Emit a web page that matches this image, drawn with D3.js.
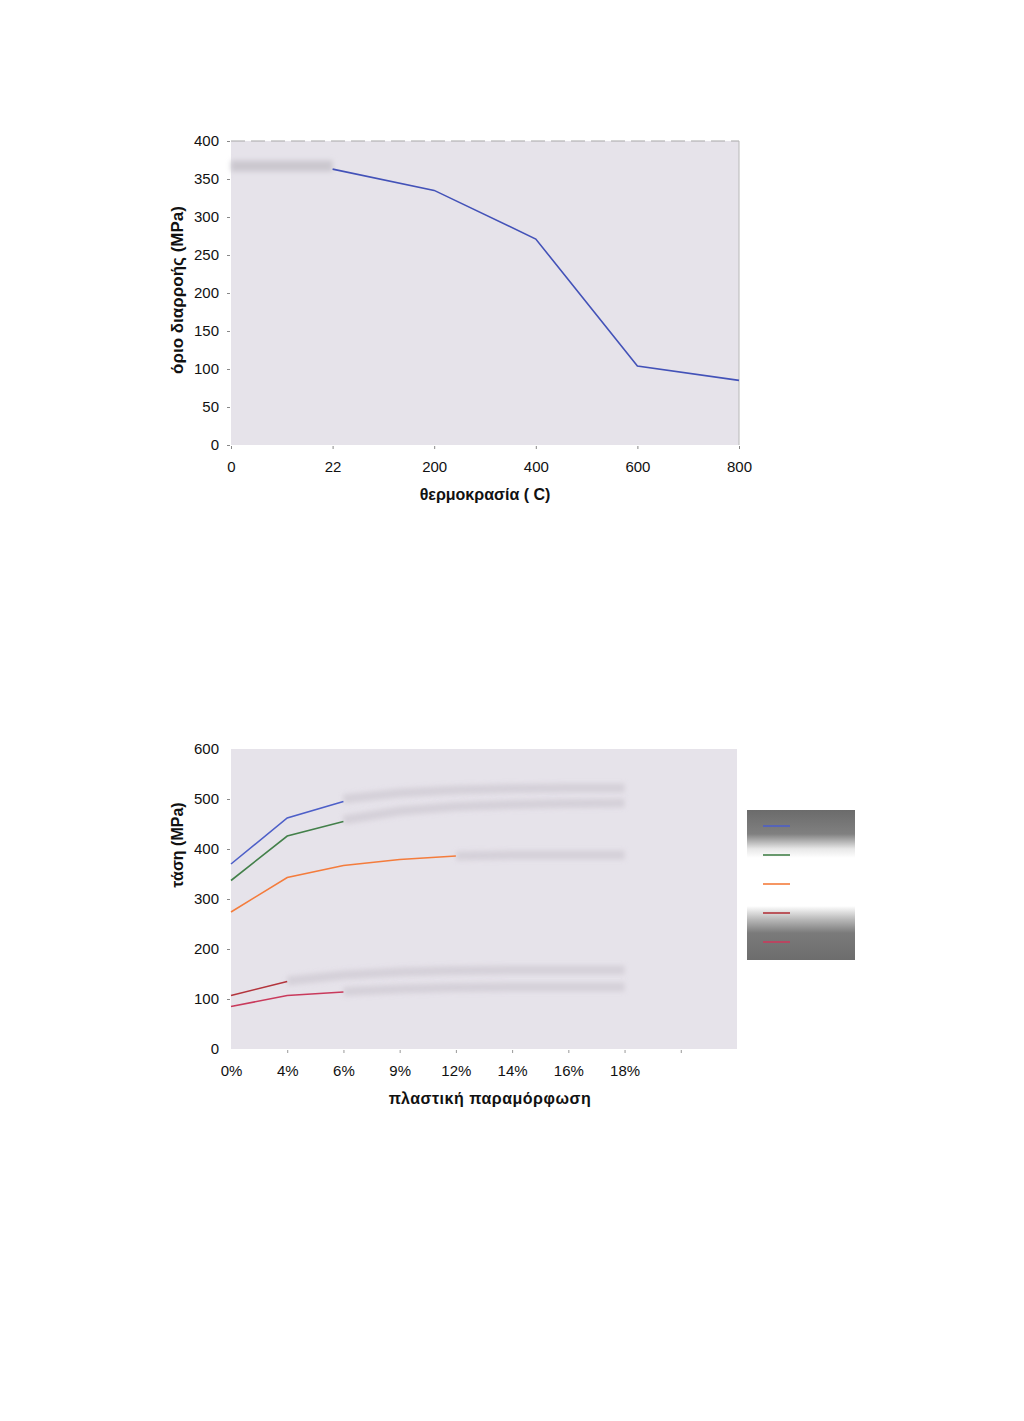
<!DOCTYPE html>
<html>
<head>
<meta charset="utf-8">
<script src="https://cdn.jsdelivr.net/npm/d3@7/dist/d3.min.js"></script>
<style>
  html, body { margin: 0; padding: 0; background: #ffffff; }
  svg { display: block; }
  text { font-family: "Liberation Sans", Arial, sans-serif; fill: #111; }
</style>
</head>
<body>
<svg id="chart" width="1024" height="1421"></svg>
<script>
// ---------- Chart 1 data ----------
const tempCategories = ["0", "22", "200", "400", "600", "800"];
const yieldStrength = [null, 363, 335, 271, 104, 85];
const yieldFaded = [367, 367, null, null, null, null];
const yieldTicks1 = [0, 50, 100, 150, 200, 250, 300, 350, 400];

// ---------- Chart 2 data ----------
const strainCategories = ["0%", "4%", "6%", "9%", "12%", "14%", "16%", "18%", "", " "];
const yTicks2 = [0, 100, 200, 300, 400, 500, 600];
const seriesBlue    = [370, 462, 495, null, null, null, null, null];
const seriesGreen   = [337, 426, 455, null, null, null, null, null];
const seriesOrange  = [274, 343, 367, 379, 386, null, null, null];
const seriesDarkRed = [107, 135, null, null, null, null, null, null];
const seriesCrimson = [85, 107, 114, null, null, null, null, null];
const fadedBlue     = [null, null, 500, 512, 518, 521, 522, 522];
const fadedGreen    = [null, null, 458, 476, 485, 489, 491, 492];
const fadedOrange   = [null, null, null, null, 386, 388, 388, 388];
const fadedDarkRed  = [null, 136, 148, 154, 157, 158, 158, 158];
const fadedCrimson  = [null, null, 115, 120, 123, 124, 124, 124];
const seriesColors = ["#4d5fc8", "#43804a", "#f47c3c", "#b3343c", "#c93a5c"];

const svg = d3.select("#chart");
const defs = svg.append("defs");
defs.append("filter").attr("id", "blur").attr("filterUnits", "userSpaceOnUse")
  .attr("x", 0).attr("y", 0).attr("width", 1024).attr("height", 1421)
  .append("feGaussianBlur").attr("stdDeviation", 2.5);
const lg = defs.append("linearGradient").attr("id", "legendGrad").attr("x1", 0).attr("y1", 0).attr("x2", 0).attr("y2", 1);
[[0, "#6b6b6b"], [0.16, "#808080"], [0.26, "#e8e8e8"], [0.32, "#ffffff"], [0.64, "#ffffff"], [0.73, "#b8b8b8"], [0.82, "#7a7a7a"], [1, "#6d6d6d"]]
  .forEach(([o, c]) => lg.append("stop").attr("offset", o).attr("stop-color", c));

const plotBg = "#e6e3ea";
const tickFont = 15;
const titleFont = 16;

// ================= Chart 1 =================
{
  const left = 231, right = 739, top = 141, bottom = 445;
  const x = d3.scalePoint().domain(tempCategories).range([left, right]);
  const y = d3.scaleLinear().domain([0, 400]).range([bottom, top]);
  const g = svg.append("g");

  g.append("rect").attr("x", left).attr("y", top).attr("width", right - left).attr("height", bottom - top).attr("fill", plotBg);
  g.append("line").attr("x1", left).attr("x2", right).attr("y1", top).attr("y2", top)
    .attr("stroke", "#a8a8a8").attr("stroke-width", 1.2).attr("stroke-dasharray", "14,6");
  g.append("line").attr("x1", right).attr("x2", right).attr("y1", top).attr("y2", bottom)
    .attr("stroke", "#b8b8b8").attr("stroke-width", 1);

  const yAxis = d3.axisLeft(y).tickValues(yieldTicks1).tickSize(3).tickPadding(8);
  const ya = g.append("g").attr("transform", `translate(${left - 1},0)`).call(yAxis);
  ya.select(".domain").remove();
  ya.selectAll(".tick line").attr("stroke", "#888");
  ya.selectAll(".tick text").attr("font-size", tickFont).attr("font-family", "Liberation Sans, Arial, sans-serif").attr("fill", "#111");

  const xAxis = d3.axisBottom(x).tickSize(3).tickPadding(12);
  const xa = g.append("g").attr("transform", `translate(0,${bottom + 1})`).call(xAxis);
  xa.select(".domain").remove();
  xa.selectAll(".tick line").attr("stroke", "#888");
  xa.selectAll(".tick text").attr("font-size", tickFont).attr("font-family", "Liberation Sans, Arial, sans-serif").attr("fill", "#111");

  const line = d3.line().defined(d => d.v != null).x(d => x(d.c)).y(d => y(d.v));
  const fadedData = tempCategories.map((c, i) => ({ c, v: yieldFaded[i] }));
  g.append("path").attr("d", line(fadedData)).attr("fill", "none").attr("stroke", "#cbc8cf")
    .attr("stroke-width", 11).attr("filter", "url(#blur)");
  const data = tempCategories.map((c, i) => ({ c, v: yieldStrength[i] }));
  g.append("path").attr("d", line(data)).attr("fill", "none").attr("stroke", "#4352b8").attr("stroke-width", 1.6);

  g.append("text").attr("x", 485).attr("y", 500).attr("text-anchor", "middle")
    .attr("font-size", titleFont).attr("font-weight", "bold").text("θερμοκρασία ( C)");
  g.append("text").attr("transform", "translate(183,290) rotate(-90)").attr("text-anchor", "middle")
    .attr("font-size", titleFont + 1).attr("font-weight", "bold").text("όριο διαρροής (MPa)");
}

// ================= Chart 2 =================
{
  const left = 231, right = 737, top = 749, bottom = 1049;
  const x = d3.scalePoint().domain(d3.range(strainCategories.length)).range([left, right]);
  const y = d3.scaleLinear().domain([0, 600]).range([bottom, top]);
  const g = svg.append("g");

  g.append("rect").attr("x", left).attr("y", top).attr("width", right - left).attr("height", bottom - top).attr("fill", plotBg);

  const yAxis = d3.axisLeft(y).tickValues(yTicks2).tickSize(3).tickPadding(8);
  const ya = g.append("g").attr("transform", `translate(${left - 1},0)`).call(yAxis);
  ya.select(".domain").remove();
  ya.selectAll(".tick line").attr("stroke", "#888").attr("opacity", d => (d === 0 || d === 600) ? 0 : 1);
  ya.selectAll(".tick text").attr("font-size", tickFont).attr("font-family", "Liberation Sans, Arial, sans-serif").attr("fill", "#111");

  const xAxis = d3.axisBottom(x).tickSize(3).tickPadding(12).tickFormat(i => strainCategories[i]);
  const xa = g.append("g").attr("transform", `translate(0,${bottom + 1})`).call(xAxis);
  xa.select(".domain").remove();
  xa.selectAll(".tick line").attr("stroke", "#999").attr("opacity", (d, i) => (i === 0 || i === strainCategories.length - 1) ? 0 : 1);
  xa.selectAll(".tick text").attr("font-size", tickFont).attr("font-family", "Liberation Sans, Arial, sans-serif").attr("fill", "#111");

  const line = d3.line().defined(d => d != null && d.v != null).x(d => x(d.i)).y(d => y(d.v));
  const toPts = arr => arr.map((v, i) => ({ i, v }));

  [fadedBlue, fadedGreen, fadedOrange, fadedDarkRed, fadedCrimson].forEach(arr => {
    g.append("path").attr("d", line(toPts(arr))).attr("fill", "none").attr("stroke", "#d2cdd6")
      .attr("stroke-width", 9).attr("filter", "url(#blur)").attr("opacity", 0.85);
  });

  const all = [seriesBlue, seriesGreen, seriesOrange, seriesDarkRed, seriesCrimson];
  all.forEach((arr, k) => {
    g.append("path").attr("d", line(toPts(arr))).attr("fill", "none").attr("stroke", seriesColors[k]).attr("stroke-width", 1.6);
  });

  // legend
  const lx = 747, ly = 810, lw = 108, lh = 150;
  g.append("rect").attr("x", lx).attr("y", ly).attr("width", lw).attr("height", lh).attr("fill", "url(#legendGrad)");
  seriesColors.forEach((c, k) => {
    const yy = 826 + k * 29;
    g.append("line").attr("x1", 763).attr("x2", 790).attr("y1", yy).attr("y2", yy).attr("stroke", c).attr("stroke-width", 1.6);
  });

  g.append("text").attr("x", 490).attr("y", 1104).attr("text-anchor", "middle")
    .attr("font-size", titleFont).attr("font-weight", "bold").attr("letter-spacing", 0.5).text("πλαστική  παραμόρφωση");
  g.append("text").attr("transform", "translate(183,845) rotate(-90)").attr("text-anchor", "middle")
    .attr("font-size", titleFont).attr("font-weight", "bold").text("τάση (MPa)");
}
</script>
</body>
</html>
